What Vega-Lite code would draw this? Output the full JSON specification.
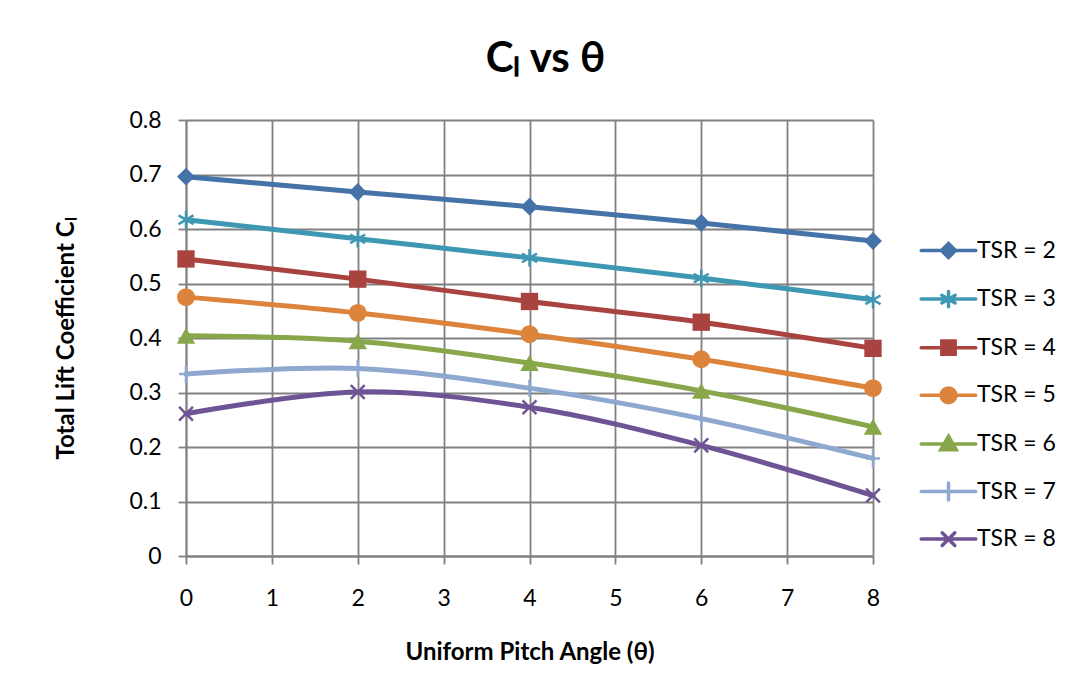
{
  "$schema": "https://vega.github.io/schema/vega-lite/v6.json",
  "width": 687,
  "height": 436,
  "autosize": {"type": "none"},
  "padding": {"left": 186, "top": 120, "right": 202, "bottom": 136},
  "background": "white",
  "title": {"text": "Cₗ vs θ", "fontSize": 42, "font": "Lato", "fontWeight": "bold", "color": "black", "anchor": "middle", "dx": 16, "offset": 28},
  "data": {"values": [
    {"series": "TSR = 2", "theta": 0, "cl": 0.696},
    {"series": "TSR = 2", "theta": 2, "cl": 0.668},
    {"series": "TSR = 2", "theta": 4, "cl": 0.641},
    {"series": "TSR = 2", "theta": 6, "cl": 0.611},
    {"series": "TSR = 2", "theta": 8, "cl": 0.578},
    {"series": "TSR = 3", "theta": 0, "cl": 0.617},
    {"series": "TSR = 3", "theta": 2, "cl": 0.582},
    {"series": "TSR = 3", "theta": 4, "cl": 0.547},
    {"series": "TSR = 3", "theta": 6, "cl": 0.510},
    {"series": "TSR = 3", "theta": 8, "cl": 0.470},
    {"series": "TSR = 4", "theta": 0, "cl": 0.545},
    {"series": "TSR = 4", "theta": 2, "cl": 0.508},
    {"series": "TSR = 4", "theta": 4, "cl": 0.467},
    {"series": "TSR = 4", "theta": 6, "cl": 0.429},
    {"series": "TSR = 4", "theta": 8, "cl": 0.381},
    {"series": "TSR = 5", "theta": 0, "cl": 0.475},
    {"series": "TSR = 5", "theta": 2, "cl": 0.446},
    {"series": "TSR = 5", "theta": 4, "cl": 0.407},
    {"series": "TSR = 5", "theta": 6, "cl": 0.361},
    {"series": "TSR = 5", "theta": 8, "cl": 0.308},
    {"series": "TSR = 6", "theta": 0, "cl": 0.404},
    {"series": "TSR = 6", "theta": 2, "cl": 0.394},
    {"series": "TSR = 6", "theta": 4, "cl": 0.354},
    {"series": "TSR = 6", "theta": 6, "cl": 0.303},
    {"series": "TSR = 6", "theta": 8, "cl": 0.237},
    {"series": "TSR = 7", "theta": 0, "cl": 0.334},
    {"series": "TSR = 7", "theta": 2, "cl": 0.344},
    {"series": "TSR = 7", "theta": 4, "cl": 0.308},
    {"series": "TSR = 7", "theta": 6, "cl": 0.252},
    {"series": "TSR = 7", "theta": 8, "cl": 0.179},
    {"series": "TSR = 8", "theta": 0, "cl": 0.261},
    {"series": "TSR = 8", "theta": 2, "cl": 0.301},
    {"series": "TSR = 8", "theta": 4, "cl": 0.273},
    {"series": "TSR = 8", "theta": 6, "cl": 0.203},
    {"series": "TSR = 8", "theta": 8, "cl": 0.111}
  ]},
  "config": {
    "view": {"stroke": null},
    "axis": {
      "labelFont": "Lato", "labelFontSize": 23, "labelColor": "black",
      "titleFont": "Lato", "titleFontSize": 24, "titleFontWeight": "bold", "titleColor": "black",
      "domainColor": "#808080", "domainWidth": 1.8,
      "tickColor": "#808080", "tickWidth": 1.8, "tickSize": 8,
      "gridColor": "#808080", "gridWidth": 1.8,
      "labelFlush": false, "labelOverlap": false
    },
    "legend": {"labelFont": "Lato", "labelFontSize": 23, "labelColor": "black"}
  },
  "encoding": {
    "x": {"field": "theta", "type": "quantitative",
      "scale": {"domain": [0, 8], "nice": false, "zero": false},
      "axis": {"values": [0,1,2,3,4,5,6,7,8], "format": "d", "labelPadding": 23, "titlePadding": 30, "title": "Uniform Pitch Angle (θ)"}},
    "y": {"field": "cl", "type": "quantitative",
      "scale": {"domain": [0, 0.8], "nice": false},
      "axis": {"values": [0,0.1,0.2,0.3,0.4,0.5,0.6,0.7,0.8], "format": "~g", "labelPadding": 17, "titlePadding": 50, "title": "Total Lift Coefficient Cₗ"}},
    "color": {"field": "series", "type": "nominal",
      "scale": {"domain": ["TSR = 2","TSR = 3","TSR = 4","TSR = 5","TSR = 6","TSR = 7","TSR = 8"],
                "range": ["#4572A7","#3E98B3","#A9433F","#DC843B","#88A64A","#8FA8D0","#6E5494"]},
      "legend": {
        "title": null, "orient": "none", "legendX": 751, "legendY": 119,
        "symbolSize": 196, "rowPadding": 18.6, "labelOffset": 17,
        "encoding": {"symbols": {
          "shape": {"value": {"expr": "datum.value === 'TSR = 2' ? 'M-3.9,0L3.9,0M0,-1L1,0L0,1L-1,0Z' : datum.value === 'TSR = 3' ? 'M-3.9,0L3.9,0M0,-1.1L0,1.1M-0.95,-0.55L0.95,0.55M-0.95,0.55L0.95,-0.55' : datum.value === 'TSR = 4' ? 'M-3.9,0L3.9,0M-0.95,-0.95L0.95,-0.95L0.95,0.95L-0.95,0.95Z' : datum.value === 'TSR = 5' ? 'M-3.9,0L3.9,0M1.05,0A1.05,1.05,0,1,1,-1.05,0A1.05,1.05,0,1,1,1.05,0Z' : datum.value === 'TSR = 6' ? 'M-3.9,0L3.9,0M0,-1.1L1.1,0.85L-1.1,0.85Z' : datum.value === 'TSR = 7' ? 'M-3.9,0L3.9,0M0,-1.2L0,1.2' : 'M-3.9,0L3.9,0M-0.9,-0.9L0.9,0.9M-0.9,0.9L0.9,-0.9'"}},
          "strokeWidth": {"value": 3.5},
          "strokeCap": {"value": "round"},
          "opacity": {"value": 1},
          "size": {"value": 196}
        }}
      }}
  },
  "layer": [
    {"mark": {"type": "line", "interpolate": "catmull-rom", "strokeWidth": 5, "strokeCap": "round", "strokeJoin": "round"}},
    {"transform": [{"filter": "datum.series === 'TSR = 2'"}],
     "mark": {"type": "point", "shape": "diamond", "filled": true, "size": 320, "opacity": 1}},
    {"transform": [{"filter": "datum.series === 'TSR = 3'"}],
     "mark": {"type": "point", "shape": "M0,-1L0,1M-0.866,-0.5L0.866,0.5M-0.866,0.5L0.866,-0.5", "filled": false, "size": 300, "strokeWidth": 2.5, "opacity": 1}},
    {"transform": [{"filter": "datum.series === 'TSR = 4'"}],
     "mark": {"type": "point", "shape": "square", "filled": true, "size": 300, "opacity": 1}},
    {"transform": [{"filter": "datum.series === 'TSR = 5'"}],
     "mark": {"type": "point", "shape": "circle", "filled": true, "size": 320, "opacity": 1}},
    {"transform": [{"filter": "datum.series === 'TSR = 6'"}],
     "mark": {"type": "point", "shape": "triangle-up", "filled": true, "size": 340, "opacity": 1}},
    {"transform": [{"filter": "datum.series === 'TSR = 7'"}],
     "mark": {"type": "point", "shape": "M0,-1L0,1M-0.8,0L0.8,0", "filled": false, "size": 300, "strokeWidth": 2.5, "opacity": 1}},
    {"transform": [{"filter": "datum.series === 'TSR = 8'"}],
     "mark": {"type": "point", "shape": "M-0.8,-0.8L0.8,0.8M-0.8,0.8L0.8,-0.8", "filled": false, "size": 300, "strokeWidth": 2.5, "opacity": 1}}
  ]
}
